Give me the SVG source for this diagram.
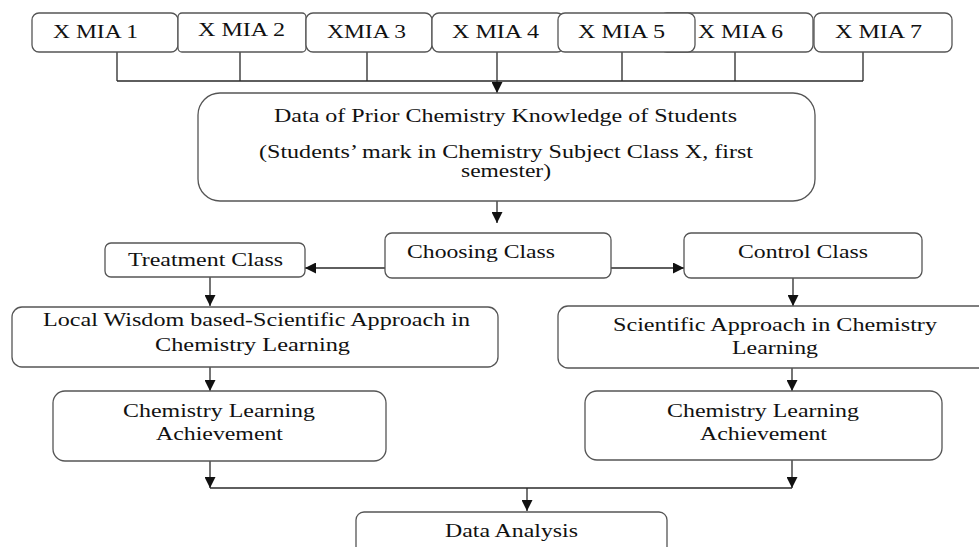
<svg xmlns="http://www.w3.org/2000/svg" width="979" height="547" viewBox="0 0 979 547">
<style>
.box{fill:#fff;stroke:#555;stroke-width:1.3}
.t{font-family:"Liberation Serif","Times New Roman",serif;font-size:19px;fill:#111}
.c{fill:none;stroke:#2a2a2a;stroke-width:1.3}
</style>
<defs>
<marker id="ah" markerUnits="userSpaceOnUse" markerWidth="11" markerHeight="11" viewBox="0 0 10 10" refX="10" refY="5" orient="auto">
<path d="M0,0 L10,5 L0,10 z" fill="#111"/>
</marker>
</defs>
<g id="connectors">
<path class="c" d="M117,52V81M240,52V81M367,52V81M622,52V81M735,52V81M863,52V81M117,81H863"/>
<path class="c" d="M497,52V93" marker-end="url(#ah)"/>
<path class="c" d="M497,201V223" marker-end="url(#ah)"/>
<path class="c" d="M385,268H305" marker-end="url(#ah)"/>
<path class="c" d="M611,268H684" marker-end="url(#ah)"/>
<path class="c" d="M210,277V306" marker-end="url(#ah)"/>
<path class="c" d="M793,278V306" marker-end="url(#ah)"/>
<path class="c" d="M210,367V391" marker-end="url(#ah)"/>
<path class="c" d="M792,368V391" marker-end="url(#ah)"/>
<path class="c" d="M210,461V488" marker-end="url(#ah)"/>
<path class="c" d="M792,460V488" marker-end="url(#ah)"/>
<path class="c" d="M210,488H792"/>
<path class="c" d="M527,488V511" marker-end="url(#ah)"/>
</g>
<g id="xmia1"><rect class="box" x="32" y="13" width="146" height="39" rx="7"/><text class="t" x="53" y="38" textLength="85" lengthAdjust="spacingAndGlyphs">X MIA 1</text></g>
<g id="xmia2"><rect class="box" x="178" y="13" width="128" height="39" rx="4"/><text class="t" x="198" y="36" textLength="87" lengthAdjust="spacingAndGlyphs">X MIA 2</text></g>
<g id="xmia3"><rect class="box" x="306" y="13" width="126" height="39" rx="7"/><text class="t" x="327" y="38" textLength="79" lengthAdjust="spacingAndGlyphs">XMIA 3</text></g>
<g id="xmia4"><rect class="box" x="432" y="13" width="132" height="39" rx="7"/><text class="t" x="452" y="38" textLength="87" lengthAdjust="spacingAndGlyphs">X MIA 4</text></g>
<g id="xmia6"><rect class="box" x="660" y="13" width="153" height="39" rx="7"/><text class="t" x="698" y="38" textLength="85" lengthAdjust="spacingAndGlyphs">X MIA 6</text></g>
<g id="xmia5"><rect class="box" x="558" y="13" width="137" height="39" rx="7"/><text class="t" x="578" y="38" textLength="87" lengthAdjust="spacingAndGlyphs">X MIA 5</text></g>
<g id="xmia7"><rect class="box" x="814" y="13" width="138" height="39" rx="7"/><text class="t" x="835" y="38" textLength="87" lengthAdjust="spacingAndGlyphs">X MIA 7</text></g>
<g id="data"><rect class="box" x="198" y="93" width="617" height="108" rx="22"/>
<text class="t" x="274" y="122" textLength="463" lengthAdjust="spacingAndGlyphs">Data of Prior Chemistry Knowledge of Students</text>
<text class="t" x="259" y="158" textLength="494" lengthAdjust="spacingAndGlyphs">(Students’ mark in Chemistry Subject Class X, first</text>
<text class="t" x="461" y="177" textLength="90" lengthAdjust="spacingAndGlyphs">semester)</text></g>
<g id="choosing"><rect class="box" x="385" y="233" width="226" height="45" rx="7"/><text class="t" x="407" y="258" textLength="148" lengthAdjust="spacingAndGlyphs">Choosing Class</text></g>
<g id="treatment"><rect class="box" x="105" y="243" width="200" height="34" rx="6"/><text class="t" x="128" y="266" textLength="155" lengthAdjust="spacingAndGlyphs">Treatment Class</text></g>
<g id="control"><rect class="box" x="684" y="233" width="238" height="45" rx="7"/><text class="t" x="738" y="258" textLength="130" lengthAdjust="spacingAndGlyphs">Control Class</text></g>
<g id="local"><rect class="box" x="12" y="307" width="486" height="60" rx="10"/>
<text class="t" x="43" y="326" textLength="427" lengthAdjust="spacingAndGlyphs">Local Wisdom based-Scientific Approach in</text>
<text class="t" x="155" y="351" textLength="195" lengthAdjust="spacingAndGlyphs">Chemistry Learning</text></g>
<g id="scientific"><rect class="box" x="558" y="306" width="440" height="62" rx="10"/>
<text class="t" x="613" y="331" textLength="324" lengthAdjust="spacingAndGlyphs">Scientific Approach in Chemistry</text>
<text class="t" x="732" y="354" textLength="86" lengthAdjust="spacingAndGlyphs">Learning</text></g>
<g id="achL"><rect class="box" x="53" y="391" width="333" height="70" rx="12"/>
<text class="t" x="123" y="417" textLength="192" lengthAdjust="spacingAndGlyphs">Chemistry Learning</text>
<text class="t" x="156" y="440" textLength="127" lengthAdjust="spacingAndGlyphs">Achievement</text></g>
<g id="achR"><rect class="box" x="585" y="391" width="357" height="69" rx="12"/>
<text class="t" x="667" y="417" textLength="192" lengthAdjust="spacingAndGlyphs">Chemistry Learning</text>
<text class="t" x="700" y="440" textLength="127" lengthAdjust="spacingAndGlyphs">Achievement</text></g>
<g id="analysis"><rect class="box" x="356" y="512" width="311" height="50" rx="8"/><text class="t" x="445" y="537" textLength="133" lengthAdjust="spacingAndGlyphs">Data Analysis</text></g>
</svg>
